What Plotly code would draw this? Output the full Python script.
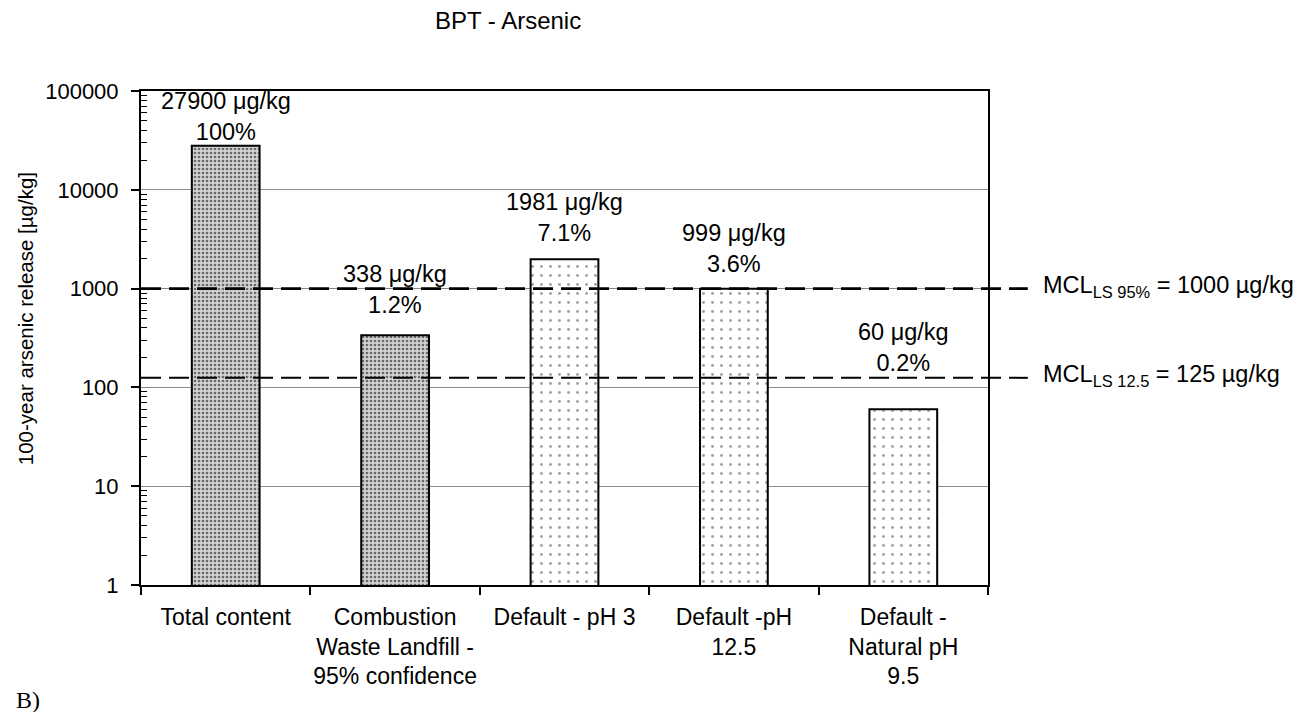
import math
import plotly.graph_objects as go

# Categories and 100-year arsenic release values
categories = [
    "Total content",
    "Combustion<br>Waste Landfill -<br>95% confidence",
    "Default - pH 3",
    "Default -pH<br>12.5",
    "Default -<br>Natural pH<br>9.5",
]
release = [27900, 338, 1981, 999, 60]
percent = ["100", "1.2", "7.1", "3.6", "0.2"]

# Regulatory limits
mcl_values = [1000, 125]
mcl_subs = ["LS 95%", "LS 12.5"]

ytick_vals = [1, 10, 100, 1000, 10000, 100000]
ytick_text = ["1", "10", "100", "1000", "10000", "100000"]

FONT = "Liberation Sans, Arial, sans-serif"

# dense stipple for measured totals, sparse dots for default scenarios
pat_bg = ["#d2d2d2", "#d2d2d2", "white", "white", "white"]
pat_fg = ["#6a6a6a", "#6a6a6a", "#a0a0a0", "#a0a0a0", "#a0a0a0"]
pat_size = [4, 4, 9, 9, 9]
pat_sol = [0.35, 0.35, 0.08, 0.08, 0.08]

fig = go.Figure()
fig.add_trace(go.Bar(
    x=categories,
    y=release,
    width=0.4,
    marker=dict(
        color="white",
        line=dict(color="black", width=2),
        pattern=dict(shape=".", bgcolor=pat_bg, fgcolor=pat_fg,
                     size=pat_size, solidity=pat_sol, fillmode="replace"),
    ),
    showlegend=False,
    hoverinfo="skip",
))

# value / percentage labels above each bar
label_shift = [29, 46, 42, 40, 62]
for cat, val, pct, sh in zip(categories, release, percent, label_shift):
    fig.add_annotation(
        x=cat, y=math.log10(val), yshift=sh,
        text=f"{val} μg/kg<br>{pct}%",
        showarrow=False, xanchor="center", yanchor="middle",
        font=dict(family=FONT, size=23.5, color="black"),
    )

# dashed limit lines extending past the right axis, with their labels
line_widths = [2.8, 2]
for v, sub, w in zip(mcl_values, mcl_subs, line_widths):
    fig.add_shape(
        type="line", xref="paper", yref="y",
        x0=0, x1=1.047, y0=v, y1=v,
        line=dict(color="black", width=w, dash="20px,8px"),
        layer="above",
    )
    fig.add_annotation(
        xref="paper", x=1.062, y=math.log10(v), yshift=2,
        text=f"MCL<sub>{sub}</sub> = {v} µg/kg",
        showarrow=False, xanchor="left", yanchor="middle",
        font=dict(family=FONT, size=23.5, color="black"),
    )

# y-axis title
fig.add_annotation(
    xref="paper", yref="paper", x=-0.137, y=0.54,
    text="100-year arsenic release [µg/kg]", textangle=-90,
    showarrow=False, xanchor="center", yanchor="middle",
    font=dict(family=FONT, size=20.5, color="black"),
)

# panel label
fig.add_annotation(
    xref="paper", yref="paper", x=-0.15, y=-0.233,
    text="B)", showarrow=False, xanchor="left", yanchor="middle",
    font=dict(family="Liberation Serif, Times New Roman, serif", size=24, color="black"),
)

minor_vals = [m * 10 ** k for k in range(0, 5) for m in range(2, 10)]

fig.update_layout(
    width=1301, height=712,
    margin=dict(l=141, r=313, t=91, b=127, autoexpand=False),
    paper_bgcolor="white", plot_bgcolor="white",
    title=dict(text="BPT - Arsenic", x=0.3905, y=0.9705,
               xanchor="center", yanchor="middle",
               font=dict(family=FONT, size=24, color="black")),
    font=dict(family=FONT, size=22, color="black"),
    bargap=0.6,
    xaxis=dict(
        type="category", tickson="boundaries", tickangle=0,
        automargin=False,
        ticks="outside", ticklen=8, tickwidth=2, tickcolor="black",
        ticklabelstandoff=10,
        showline=True, linecolor="black", linewidth=2, mirror=True,
        showgrid=False, tickfont=dict(family=FONT, size=23),
    ),
    yaxis=dict(
        type="log", range=[0, 5], automargin=False,
        tickvals=ytick_vals, ticktext=ytick_text,
        ticks="outside", ticklen=8, tickwidth=2, tickcolor="black",
        ticklabelstandoff=8,
        showline=True, linecolor="black", linewidth=2, mirror=True,
        showgrid=True, gridcolor="#8c8c8c", gridwidth=1,
        zeroline=False,
        tickfont=dict(family=FONT, size=22),
        minor=dict(tickvals=minor_vals, ticks="inside", ticklen=6,
                   tickwidth=1, tickcolor="black", showgrid=False),
    ),
)

fig.write_html("out.html")
